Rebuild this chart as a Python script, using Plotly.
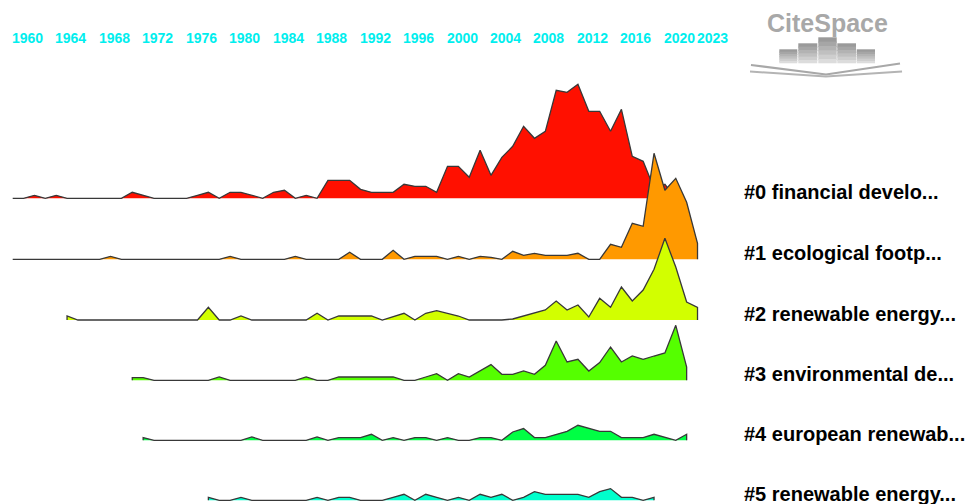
import plotly.graph_objects as go

# ---------------- data ----------------
tick_years = [1960, 1964, 1968, 1972, 1976, 1980, 1984, 1988, 1992, 1996,
              2000, 2004, 2008, 2012, 2016, 2020, 2023]

cluster_labels = ["#0 financial develo...", "#1 ecological footp...",
                  "#2 renewable energy...", "#3 environmental de...",
                  "#4 european renewab...", "#5 renewable energy..."]

c0_start = 1960
c0_values = [0, 0, 3, 0, 3, 0, 0, 0, 0, 0,
             0, 6, 3, 0, 0, 0, 0, 3, 6, 0,
             6, 6, 3, 0, 6, 8, 0, 3, 0, 18,
             18, 18, 9, 6, 6, 6, 14, 12, 12, 6,
             32, 32, 21, 48, 23, 41, 52, 72, 60, 67,
             108, 106, 114, 87, 87, 67, 89, 42, 37, 10,
             14, 0]

c1_start = 1960
c1_values = [0, 0, 0, 0, 0, 0, 0, 0, 0, 3,
             0, 0, 0, 0, 0, 0, 0, 0, 0, 0,
             3, 0, 0, 0, 0, 0, 3, 0, 0, 0,
             0, 7, 0, 0, 0, 9, 0, 3, 3, 3,
             0, 3, 0, 3, 2, 0, 8, 4, 6, 4,
             4, 4, 6, 0, 0, 15, 12, 36, 33, 106,
             69, 81, 57, 16]

c2_start = 1965
c2_values = [4, 0, 0, 0, 0, 0, 0, 0, 0, 0,
             0, 0, 0, 12.7, 0, 0, 4, 0, 0, 0,
             0, 0, 0, 6.7, 0, 4, 4, 4, 4, 0,
             3.3, 6.7, 0, 6.7, 9.3, 6.7, 4, 0, 0, 0,
             0, 1, 4, 6.7, 10, 19, 10, 15, 3, 21.7,
             12.7, 33, 19, 30, 50.7, 81.7, 53, 18, 12.7]

c3_start = 1971
c3_values = [2.7, 2.7, 0, 0, 0, 0, 0, 0, 3.3, 0,
             0, 0, 0, 0, 0, 0, 3.3, 0, 0, 3.3,
             3.3, 3.3, 3.3, 3.3, 3.3, 0, 0, 3.3, 6.7, 0,
             6.7, 3.3, 9.3, 15.7, 6, 6, 9.3, 6, 15, 39.3,
             18.3, 21, 9.3, 17.7, 33.3, 18.3, 24.3, 21, 24.3, 27.3,
             55, 13.3]

c4_start = 1972
c4_values = [2.7, 0, 0, 0, 0, 0, 0, 0, 0, 0,
             3.3, 0, 0, 0, 0, 0, 3.3, 0, 2.7, 2.7,
             2.7, 6, 0, 2.7, 0, 2.7, 2.7, 0, 2.7, 0,
             0, 2.7, 2.7, 0, 8.3, 11.7, 2.7, 2.7, 6, 9,
             15, 11.7, 9, 9, 2.7, 2.7, 2.7, 6, 3.3, 0,
             6]

c5_start = 1978
c5_values = [3, 0, 0, 3, 0, 0, 0, 0, 0, 0,
             3, 0, 3, 3, 0, 0, 0, 3, 6, 0,
             6, 3, 0, 3, 0, 6, 3, 6, 0, 3,
             8.7, 6, 6, 6, 6, 3, 8.7, 11.7, 3, 3,
             0, 3]

starts = [c0_start, c1_start, c2_start, c3_start, c4_start, c5_start]
series = [c0_values, c1_values, c2_values, c3_values, c4_values, c5_values]

# ---------------- style / layout ----------------
colors = ["#FF1000", "#FF9900", "#D2FF00", "#55FF00", "#00FF44", "#00FFCC"]
row_base = [-198.3, -259.3, -320.0, -380.3, -440.3, -500.3]
W, H = 969, 504
px_per_year = 10.87
x_first = 1960 - 12.7 / px_per_year
x_last = x_first + W / px_per_year

fig = go.Figure()
for start, vals, col, base in zip(starts, series, colors, row_base):
    yrs = [start + i for i in range(len(vals))]
    xs = [yrs[0]] + yrs + [yrs[-1]]
    ys = [base] + [base + v for v in vals] + [base]
    fig.add_trace(go.Scatter(x=xs, y=ys, mode="lines", fill="toself",
                             fillcolor=col, line=dict(width=0),
                             hoverinfo="skip", showlegend=False))
    fig.add_trace(go.Scatter(x=xs, y=ys, mode="lines",
                             line=dict(color="#383838", width=1.3),
                             hoverinfo="skip", showlegend=False))

annotations = []
for yr in tick_years:
    annotations.append(dict(x=yr, y=-38, xref="x", yref="y", text="<b>%d</b>" % yr,
                            showarrow=False, xanchor="left", yanchor="middle",
                            xshift=-3,
                            font=dict(family="Liberation Sans, Arial", size=14,
                                      color="#00EEEE")))
for lab, base in zip(cluster_labels, row_base):
    annotations.append(dict(x=745 / W, y=base + 6, xref="paper",
                            yref="y", text="<b>%s</b>" % lab, showarrow=False,
                            xanchor="left", yanchor="middle", xshift=-3,
                            font=dict(family="Liberation Sans, Arial", size=20,
                                      color="#000000")))

# CiteSpace logo
annotations.append(dict(x=827 / W, y=1 - 23 / H, xref="paper", yref="paper",
                        text="<b>CiteSpace</b>", showarrow=False,
                        xanchor="center", yanchor="middle",
                        font=dict(family="Liberation Sans, Arial", size=25,
                                  color="#A8A8A8")))

shapes = []
bars = [(779.3, 797.3, 49.3), (798.3, 817.3, 43.3), (818.3, 836.7, 37.3),
        (837.3, 856.0, 43.3), (856.7, 875.0, 49.3)]
shade = ["#9a9a9a", "#a6a6a6", "#b3b3b3", "#c0c0c0", "#cecece", "#dcdcdc"]
for x0, x1, top in bars:
    bottom = 63.3
    n = len(shade)
    for k in range(n):
        t0 = top + (bottom - top) * k / n
        t1 = min(bottom, top + (bottom - top) * (k + 1) / n + 1.0)
        shapes.append(dict(type="rect", xref="paper", yref="paper",
                           x0=x0 / W, x1=x1 / W, y0=1 - t1 / H, y1=1 - t0 / H,
                           fillcolor=shade[k], line=dict(width=0), layer="above"))

def pth(pts):
    return "M " + " L ".join("%.4f,%.4f" % (x / W, 1 - y / H) for x, y in pts)

shapes.append(dict(type="path", xref="paper", yref="paper",
                   path=pth([(751, 65), (826, 74.5), (900, 63.5)]),
                   line=dict(color="#a8a8a8", width=2.2), layer="above"))
shapes.append(dict(type="path", xref="paper", yref="paper",
                   path=pth([(750, 71.5), (826, 76.5), (902, 71.5)]),
                   line=dict(color="#b4b4b4", width=2), layer="above"))

fig.update_layout(
    width=W, height=H,
    margin=dict(l=0, r=0, t=0, b=0),
    paper_bgcolor="white", plot_bgcolor="white",
    xaxis=dict(range=[x_first, x_last], visible=False, fixedrange=True),
    yaxis=dict(range=[-H, 0], visible=False, fixedrange=True),
    annotations=annotations, shapes=shapes,
    showlegend=False,
)

fig.write_html("out.html", config={"displayModeBar": False},
               post_script="document.body.style.margin='0';document.body.style.overflow='hidden';")
